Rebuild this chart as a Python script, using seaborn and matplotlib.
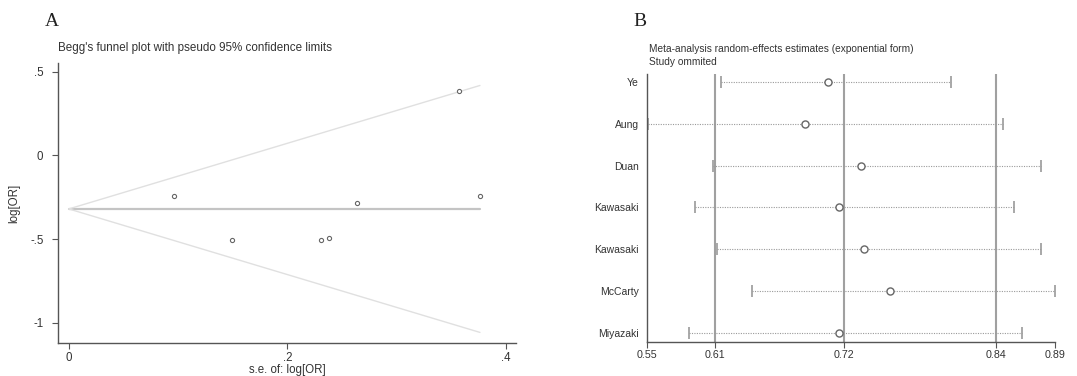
import numpy as np
import pandas as pd
import matplotlib
matplotlib.use("Agg")
import matplotlib.pyplot as plt
import seaborn as sns

# ---------------- Data ----------------
# Panel A: Begg's funnel plot
se_logor = [0.0963, 0.1491, 0.2306, 0.2384, 0.2635, 0.3570, 0.3764]
logor = [-0.245, -0.508, -0.508, -0.492, -0.283, 0.387, -0.245]
pooled_logor = -0.320
a_xticks = [0, 0.2, 0.4]
a_xticklabels = ["0", ".2", ".4"]
a_yticks = [0.5, 0, -0.5, -1]
a_yticklabels = [".5", "0", "-.5", "-1"]

# Panel B: leave-one-out sensitivity analysis
studies = ["Ye", "Aung", "Duan", "Kawasaki", "Kawasaki", "McCarty", "Miyazaki"]
est = [0.7048, 0.6859, 0.7323, 0.7140, 0.7346, 0.7568, 0.7140]
lower = [0.6157, 0.5546, 0.6087, 0.5943, 0.6121, 0.6413, 0.5893]
upper = [0.8076, 0.8504, 0.8823, 0.8596, 0.8826, 0.8940, 0.8663]
b_xticks = [0.554, 0.611, 0.718, 0.845, 0.894]
b_xticklabels = ["0.55", "0.61", "0.72", "0.84", "0.89"]
b_reflines = [0.611, 0.718, 0.845]

# ---------------- Style ----------------
sns.set_theme(style="white")
plt.rcParams["font.family"] = ["Liberation Sans", "DejaVu Sans"]

W, H = 1077, 376
fig = plt.figure(figsize=(W / 100, H / 100), dpi=100)

def box(l, t, r, b):
    return [l / W, 1 - b / H, (r - l) / W, (b - t) / H]

spine_col = "#555555"
text_col = "#333333"

# ---------------- Panel A ----------------
axA = fig.add_axes(box(58, 63, 516, 343))
dfA = pd.DataFrame({"se": se_logor, "logor": logor})
maxse = max(se_logor)
sx = np.array([0, maxse])
axA.plot(sx, [pooled_logor, pooled_logor], color="#c4c4c4", lw=1.6, zorder=1)
axA.plot(sx, pooled_logor + 1.96 * sx, color="#e0e0e0", lw=1.0, zorder=1)
axA.plot(sx, pooled_logor - 1.96 * sx, color="#e0e0e0", lw=1.0, zorder=1)
sns.scatterplot(data=dfA, x="se", y="logor", ax=axA, marker="o", s=9,
                facecolor="white", edgecolor="#666666", linewidth=0.8, zorder=3)
axA.set_xlim(-0.0099, 0.4094)
axA.set_ylim(-1.121, 0.552)
axA.set_xticks(a_xticks)
axA.set_xticklabels(a_xticklabels)
axA.set_yticks(a_yticks)
axA.set_yticklabels(a_yticklabels)
for s in ["top", "right"]:
    axA.spines[s].set_visible(False)
for s in ["left", "bottom"]:
    axA.spines[s].set_color(spine_col)
    axA.spines[s].set_linewidth(1.0)
axA.tick_params(axis="both", which="both", direction="out", length=4.5, width=0.8,
                color=spine_col, labelsize=8.3, labelcolor=text_col, bottom=True, left=True)
axA.tick_params(axis="x", pad=2)
axA.tick_params(axis="y", pad=6)
axA.set_xlabel("s.e. of: log[OR]", fontsize=8.3, color=text_col, labelpad=0)
axA.set_ylabel("log[OR]", fontsize=8.3, color=text_col, labelpad=7)
fig.text(58 / W, 1 - 48 / H, "Begg's funnel plot with pseudo 95% confidence limits",
         fontsize=8.4, color=text_col, va="center", ha="left")
fig.text(45 / W, 1 - 21 / H, "A", fontsize=14, family=["Liberation Serif"],
         color="#222222", va="center", ha="left")

# ---------------- Panel B ----------------
axB = fig.add_axes(box(647, 74, 1055, 342))
ypos = np.arange(len(studies))
dfB = pd.DataFrame({"study": studies, "est": est, "y": ypos})
for xv in b_reflines:
    axB.axvline(xv, color="#a0a0a0", lw=1.5, zorder=1)
err = [np.array(est) - np.array(lower), np.array(upper) - np.array(est)]
eb = axB.errorbar(est, ypos, xerr=err, fmt="none", ecolor="#9a9a9a",
                  elinewidth=0.8, capsize=4.2, capthick=1.2, zorder=2)
for lc in eb[2]:
    lc.set_linestyle((0, (1, 1.2)))
for cl in eb[1]:
    cl.set_color("#888888")
sns.scatterplot(data=dfB, x="est", y="y", ax=axB, marker="o", s=26,
                facecolor="white", edgecolor="#666666", linewidth=1.0, zorder=4)
axB.set_xlim(0.554, 0.894)
axB.set_ylim(len(studies) - 1 + 0.22, -0.19)
axB.set_xticks(b_xticks)
axB.set_xticklabels(b_xticklabels)
axB.set_yticks(ypos)
axB.set_yticklabels(studies)
axB.set_xlabel("")
axB.set_ylabel("")
for s in ["top", "right"]:
    axB.spines[s].set_visible(False)
for s in ["left", "bottom"]:
    axB.spines[s].set_color(spine_col)
    axB.spines[s].set_linewidth(1.0)
axB.tick_params(axis="x", which="both", direction="out", length=4, width=0.8,
                color=spine_col, labelsize=7.7, labelcolor=text_col, pad=2, bottom=True)
axB.tick_params(axis="y", which="both", length=0, labelsize=7.5,
                labelcolor=text_col, pad=6, left=False)
fig.text(649 / W, 1 - 49 / H, "Meta-analysis random-effects estimates (exponential form)",
         fontsize=7.3, color=text_col, va="center", ha="left")
fig.text(649 / W, 1 - 62 / H, "Study ommited",
         fontsize=7.3, color=text_col, va="center", ha="left")
fig.text(633 / W, 1 - 21 / H, "B", fontsize=14, family=["Liberation Serif"],
         color="#222222", va="center", ha="left")

fig.savefig("out.png", dpi=100)
